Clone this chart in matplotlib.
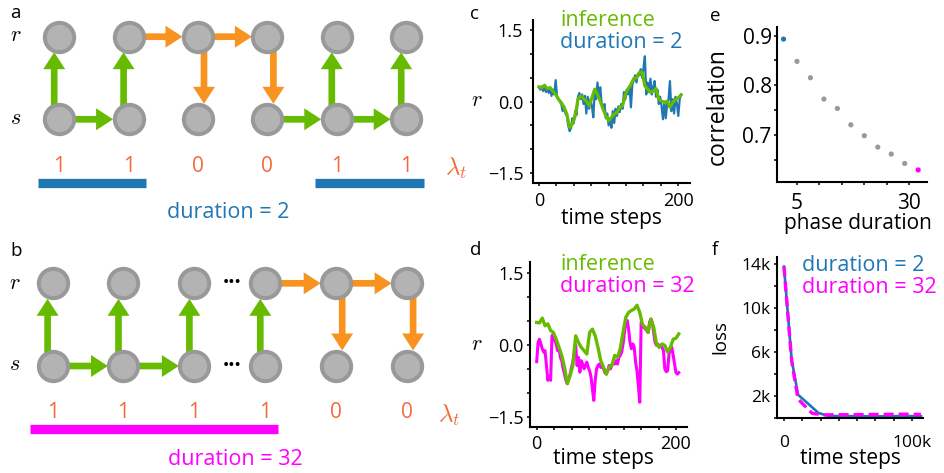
import numpy as np
import matplotlib
matplotlib.use('Agg')
import matplotlib.pyplot as plt
from matplotlib import transforms

plt.rcParams['font.family'] = ['Open Sans', 'DejaVu Sans']
plt.rcParams['mathtext.fontset'] = 'cm'

W, H = 945, 473

GREEN = '#66bb00'
ORANGE = '#f7931e'
LAM_RED = '#f26b3a'
BLUE = '#1f77b4'
MAGENTA = '#ff00ff'
NODE_FILL = '#b3b3b3'
NODE_EDGE = '#999999'

# ---------------- data ----------------
# a / b: phase indicator lambda_t for each column of the chain
lam_a = [1, 1, 0, 0, 1, 1]
lam_b = [1, 1, 1, 1, 0, 0]
skip_b = 2          # "..." between column 2 and 3 in b

# c / d: r over time
steps_coarse = np.arange(0, 205, 4)
steps_fine = np.arange(0, 205, 2)
infer_c = [0.31, 0.29, 0.34, 0.27, 0.29, 0.22, 0.15, 0.05, -0.02, -0.12,
           -0.26, -0.54, -0.47, -0.30, 0.05, 0.12, 0.06, 0.01, -0.09, 0.08,
           0.26, 0.15, 0.01, -0.16, -0.30, -0.40, -0.33, -0.26, -0.23, -0.12,
           -0.09, 0.15, 0.27, 0.36, 0.48, 0.50, 0.61, 0.62, 0.33, 0.26,
           0.19, 0.22, 0.27, 0.05, 0.01, -0.02, 0.01, -0.12, -0.02, 0.05,
           0.08, 0.14]
dur2_c = [0.30, 0.25, 0.32, 0.22, 0.35, 0.20, 0.28, 0.18, 0.30, 0.12,
          0.25, 0.15, 0.45, 0.10, 0.05, 0.00, -0.05, -0.20, -0.10, -0.25,
          -0.30, -0.50, -0.62, -0.55, -0.35, -0.45, -0.20, -0.28, 0.10, 0.18,
          0.05, 0.15, -0.05, 0.12, -0.25, 0.10, -0.15, 0.05, -0.10, -0.33,
          0.20, 0.05, 0.40, 0.10, 0.30, -0.05, -0.15, -0.05, -0.35, -0.25,
          -0.50, -0.35, -0.55, -0.20, -0.45, -0.15, -0.30, -0.10, -0.22, -0.05,
          -0.15, 0.20, 0.05, 0.25, 0.15, 0.30, -0.12, 0.35, 0.45, 0.55,
          0.40, 0.58, 0.55, 0.68, 0.50, 0.70, 0.95, 0.15, 0.40, 0.20,
          0.48, 0.15, 0.30, 0.43, 0.10, 0.25, -0.05, 0.10, -0.10, -0.37,
          0.00, -0.35, -0.05, 0.05, 0.43, -0.20, 0.05, -0.25, 0.10, -0.05,
          -0.30, 0.05, 0.15]
infer_d = [0.47, 0.46, 0.56, 0.40, 0.44, 0.30, 0.26, 0.12, -0.05, -0.22,
           -0.47, -0.81, -0.64, -0.43, 0.19, 0.05, -0.05, -0.12, -0.19, 0.26,
           0.33, 0.19, -0.05, -0.33, -0.47, -0.61, -0.47, -0.43, -0.22, -0.26,
           -0.08, 0.26, 0.58, 0.68, 0.72, 0.75, 0.83, 0.68, 0.42, 0.37,
           0.26, 0.54, 0.37, 0.02, -0.05, 0.02, -0.01, -0.15, -0.05, 0.12,
           0.14, 0.23]
dur32_d = [-0.35, 0.05, 0.12, 0.02, -0.08, -0.15, -0.12, -0.43, -0.74, -0.67,
           -0.74, 0.19, 0.23, 0.09, 0.02, -0.12, -0.08, -0.26, -0.33, -0.50,
           -0.61, -0.74, -0.81, -0.71, -0.61, -0.47, -0.36, -0.15, -0.01, -0.43,
           -0.26, -0.57, -0.33, -0.40, -0.50, -0.43, -0.36, -0.47, -0.54, -0.67,
           -0.92, -1.16, -0.74, -0.50, -0.43, -0.40, -0.47, -0.43, -0.50, -0.58,
           -0.61, -0.54, -0.43, -0.50, -0.42, -0.36, -0.40, -0.33, -0.40, -0.26,
           -0.22, -0.15, 0.02, 0.26, 0.47, 0.51, 0.33, 0.05, -0.08, 0.02,
           -0.05, -0.36, -0.54, -0.85, -1.20, 0.47, 0.42, 0.37, 0.33, 0.30,
           0.26, 0.47, 0.54, 0.47, 0.26, 0.05, -0.01, 0.02, -0.05, -0.01,
           -0.05, -0.12, -0.50, -0.56, -0.54, -0.19, -0.08, -0.05, -0.22, -0.40,
           -0.58, -0.61, -0.58]

# e: correlation vs phase duration
phase_duration = [2, 5, 8, 11, 14, 17, 20, 23, 26, 29, 32]
correlation = [0.893, 0.848, 0.815, 0.772, 0.753, 0.720, 0.698, 0.675, 0.661, 0.642, 0.629]

# f: training loss
train_steps_2 = [0, 6000, 11000, 27000, 35000, 55000, 75000, 95000, 107000]
loss_2 = [13800, 5300, 2100, 430, 150, 140, 120, 150, 130]
train_steps_32 = [0, 6000, 11000, 22000, 31000, 55000, 75000, 95000, 107000]
loss_32 = [13800, 5200, 1700, 400, 260, 280, 300, 320, 300]

fig = plt.figure(figsize=(W / 100, H / 100), dpi=100)


def P(x, y):
    return x / W, 1 - y / H


def px_axes(left, top, right, bottom):
    return fig.add_axes([left / W, 1 - bottom / H, (right - left) / W, (bottom - top) / H])


def arrow(ax, start, end, color, shift):
    tr = transforms.offset_copy(ax.transData, fig=fig, x=shift, y=0, units='dots')
    ax.annotate('', xy=end, xytext=start, xycoords=tr, textcoords=tr,
                arrowprops=dict(arrowstyle='simple,head_length=1.22,head_width=1.58,tail_width=0.48',
                                mutation_scale=10, color=color, lw=0, shrinkA=0, shrinkB=11.2))


def chain(box, x0, dx, y_s, y_r, lam, skip, bar_color, pad_l, pad_r, bar_y, lam_y):
    left, top, right, bottom = box
    ax = px_axes(left, top, right, bottom)
    ax.set_xlim((left - x0) / dx, (right - x0) / dx)
    h = y_s - y_r
    ax.set_ylim((y_s - bottom) / h, (y_s - top) / h)
    ax.axis('off')
    n = len(lam)
    cols = np.arange(n)
    for t in range(n):
        linked = t > 0 and (t - 1) != skip
        if lam[t] == 1:
            arrow(ax, (t, 0), (t, 1), GREEN, -5)
            if linked:
                arrow(ax, (t - 1, 0), (t, 0), GREEN, 0)
        else:
            if linked:
                arrow(ax, (t - 1, 1), (t, 1), ORANGE, 0)
            arrow(ax, (t, 1), (t, 0), ORANGE, 6)
    for row in (0, 1):
        ax.scatter(cols, np.full(n, row), s=445, c=NODE_FILL, edgecolors=NODE_EDGE,
                   linewidths=2.9, zorder=3, clip_on=False)
    blend = transforms.blended_transform_factory(ax.transData, fig.transFigure)
    for t, v in enumerate(lam):
        ax.text(t, 1 - lam_y / H, str(v), transform=blend, ha='center', va='baseline',
                color=LAM_RED, fontsize=15)
    t = 0
    while t < n:
        if lam[t] == 1:
            start = t
            while t + 1 < n and lam[t + 1] == 1:
                t += 1
            ax.plot([start - pad_l, t + pad_r], [1 - bar_y / H] * 2, transform=blend,
                    color=bar_color, lw=6.7, solid_capstyle='butt')
        t += 1
    return ax


# ---- a ----
ax_a = chain((0, 0, 472, 236), 59.2, 69.4, 119.3, 36.7, lam_a, None, BLUE, 0.31, 0.25, 183.3, 171.7)
# ---- b ----
ax_b = chain((0, 236, 472, 473), 52.6, 70.9, 366, 283.3, lam_b, skip_b, MAGENTA, 0.32, 0.18, 429, 418.3)
for yy in (283.3, 366):
    fig.text(*P(231.7, yy), '\u00b7\u00b7\u00b7', ha='center', va='center', fontsize=16,
             fontweight='bold', color='black')

fig.text(*P(455.8, 175), r'$\lambda_t$', ha='center', va='baseline', color=LAM_RED, fontsize=18)
fig.text(*P(449, 421.7), r'$\lambda_t$', ha='center', va='baseline', color=LAM_RED, fontsize=18)
fig.text(*P(228.3, 218.3), 'duration = 2', ha='center', va='baseline', color=BLUE, fontsize=15.5)
fig.text(*P(235, 465), 'duration = 32', ha='center', va='baseline', color=MAGENTA, fontsize=15.5)
for (xx, yy, s) in [(15.8, 35.8, '$r$'), (15.8, 119, '$s$'), (15, 283.3, '$r$'), (15, 364.7, '$s$')]:
    fig.text(*P(xx, yy), s, ha='center', va='center', fontsize=16)


def style(ax, xpad, ypad, fs):
    for side in ('top', 'right'):
        ax.spines[side].set_visible(False)
    for side in ('left', 'bottom'):
        ax.spines[side].set_linewidth(1.5)
    ax.tick_params(which='both', direction='out', length=2.2, width=1.1, labelsize=fs)
    ax.tick_params(axis='x', which='both', pad=xpad)
    ax.tick_params(axis='y', which='both', pad=ypad)


# ---- c ----
ax_c = px_axes(532.7, 20, 690, 182.7)
ax_c.plot(steps_fine, dur2_c, color=BLUE, lw=1.6)
ax_c.plot(steps_coarse, infer_c, color=GREEN, lw=2.3)
ax_c.set_xlim(-9, 216.8)
ax_c.set_ylim(-1.70, 1.71)
ax_c.set_xticks([0, 200])
ax_c.set_xticks(range(25, 200, 25), minor=True)
ax_c.set_yticks([-1.5, 0, 1.5])
ax_c.set_yticklabels(['\u22121.5', '0.0', '1.5'])
ax_c.set_yticks([-1, -0.5, 0.5, 1], minor=True)
style(ax_c, 4.3, 4.6, 13)

# ---- d ----
ax_d = px_axes(530, 261.7, 686.7, 426.7)
ax_d.plot(steps_fine, dur32_d, color=MAGENTA, lw=2.2)
ax_d.plot(steps_coarse, infer_d, color=GREEN, lw=2.4)
ax_d.set_xlim(-9.6, 215.4)
ax_d.set_ylim(-1.71, 1.74)
ax_d.set_xticks([0, 200])
ax_d.set_xticks(range(25, 200, 25), minor=True)
ax_d.set_yticks([-1.5, 0, 1.5])
ax_d.set_yticklabels(['\u22121.5', '0.0', '1.5'])
ax_d.set_yticks([-1, -0.5, 0.5, 1], minor=True)
style(ax_d, 3.8, 2.6, 13)

# ---- e ----
ax_e = px_axes(777, 26.7, 926.7, 182.3)
pt_colors = [BLUE] + ['#999999'] * (len(phase_duration) - 2) + [MAGENTA]
ax_e.scatter(phase_duration, correlation, s=14, c=pt_colors, linewidths=0, clip_on=False)
ax_e.set_xlim(0.55, 33.9)
ax_e.set_ylim(0.604, 0.918)
ax_e.set_xticks([5, 30])
ax_e.set_xticks([10, 15, 20, 25], minor=True)
ax_e.set_yticks([0.7, 0.8, 0.9])
ax_e.set_yticklabels(['0.7', '0.8', '0.9'])
ax_e.set_yticks([0.65, 0.75, 0.85], minor=True)
style(ax_e, 5.3, 1.6, 15)

# ---- f ----
ax_f = px_axes(777.3, 256.7, 922.7, 417.7)
ax_f.plot(train_steps_2, loss_2, color=BLUE, lw=1.9)
ax_f.plot(train_steps_32, loss_32, color=MAGENTA, lw=2.4, dashes=(3, 1.5))
ax_f.set_xlim(-5200, 108400)
ax_f.set_ylim(0, 14700)
ax_f.set_xticks([0, 100000])
ax_f.set_xticklabels(['0', '100k'])
ax_f.set_xticks(np.linspace(0, 100000, 8)[1:-1], minor=True)
ax_f.set_yticks([2000, 6000, 10000, 14000])
ax_f.set_yticklabels(['2k', '6k', '10k', '14k'])
ax_f.set_yticks([0, 4000, 8000, 12000], minor=True)
style(ax_f, 10, 3, 12.5)

# ---- axis labels, legends, panel letters ----
fig.text(*P(611, 218), 'time steps', ha='center', va='center', fontsize=15)
fig.text(*P(603.3, 458), 'time steps', ha='center', va='center', fontsize=15)
fig.text(*P(850.8, 458.3), 'time steps', ha='center', va='center', fontsize=15)
fig.text(*P(858.3, 223), 'phase duration', ha='center', va='center', fontsize=15)
fig.text(*P(718, 106.7), 'correlation', ha='center', va='center', rotation=90, fontsize=16.5)
fig.text(*P(720.5, 336.7), 'loss', ha='center', va='center', rotation=90, fontsize=13.5)
fig.text(*P(476.7, 100.7), '$r$', ha='center', va='center', fontsize=16)
fig.text(*P(476.7, 344.3), '$r$', ha='center', va='center', fontsize=16)

fig.text(*P(560, 26), 'inference', ha='left', va='baseline', color=GREEN, fontsize=15.5)
fig.text(*P(560, 47.7), 'duration = 2', ha='left', va='baseline', color=BLUE, fontsize=15.5)
fig.text(*P(560, 270), 'inference', ha='left', va='baseline', color=GREEN, fontsize=15.5)
fig.text(*P(560, 292.3), 'duration = 32', ha='left', va='baseline', color=MAGENTA, fontsize=15.5)
fig.text(*P(801.7, 271), 'duration = 2', ha='left', va='baseline', color=BLUE, fontsize=15.5)
fig.text(*P(801.7, 293.3), 'duration = 32', ha='left', va='baseline', color=MAGENTA, fontsize=15.5)

for (xx, yy, s) in [(10, 18.3, 'a'), (10, 256, 'b'), (470, 19.3, 'c'),
                    (470, 255, 'd'), (710, 20.7, 'e'), (711.7, 255, 'f')]:
    fig.text(*P(xx, yy), s, ha='left', va='baseline', fontsize=13.5)

fig.savefig('out.png', dpi=100)
